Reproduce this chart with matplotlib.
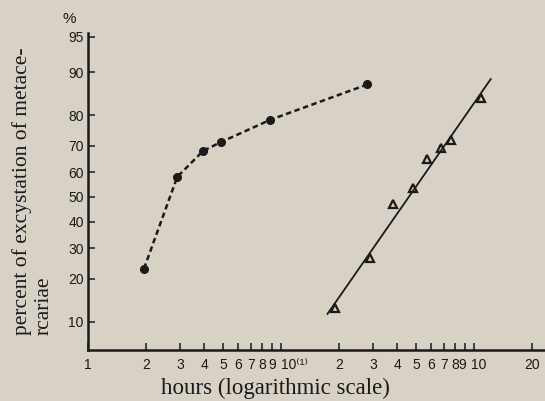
import numpy as np
import matplotlib
matplotlib.use("Agg")
import matplotlib.pyplot as plt
from statistics import NormalDist

# data (hours, % excystation)
circle_hours = [1.95, 2.9, 3.95, 4.9, 8.8, 28]
circle_pct = [23.1, 58.2, 68.2, 71.4, 78.6, 87.6]

tri_hours = [19, 29, 38, 48, 57, 67, 76, 109]
tri_pct = [12.8, 26.6, 47.3, 53.6, 65.0, 69.1, 72.1, 84.5]

# fitted straight line (end points)
line_hours = [17.4, 122]
line_pct = [11.5, 88.7]

xtick_pos = [1, 2, 3, 4, 5, 6, 7, 8, 9, 10, 20, 30, 40, 50, 60, 70, 80, 90, 100, 200]
xtick_lab = ['1', '2', '3', '4', '5', '6', '7', '8', '9', '10⁽¹⁾',
             '2', '3', '4', '5', '6', '7', '8', '9', '10', '20']
ytick_pos = [10, 20, 30, 40, 50, 60, 70, 80, 90, 95]

nd = NormalDist()
_ppf = np.vectorize(lambda p: nd.inv_cdf(min(max(p, 0.01), 99.99) / 100.0), otypes=[float])
_cdf = np.vectorize(lambda z: nd.cdf(z) * 100.0, otypes=[float])


def fwd(p):
    return _ppf(np.asarray(p, dtype=float))


def inv(z):
    return _cdf(np.asarray(z, dtype=float))


bg = '#d8d1c6'
ink = '#1a1a1a'
narrow = ['Liberation Sans', 'DejaVu Sans']
serif = ['Liberation Serif', 'DejaVu Serif']

fig = plt.figure(figsize=(5.45, 4.01), dpi=100, facecolor=bg)
ax = fig.add_axes([0.1615, 0.127, 0.8385, 0.791])
ax.set_facecolor(bg)

ax.set_xscale('log')
ax.set_yscale('function', functions=(fwd, inv))
ax.set_xlim(1, 233)
ax.set_ylim(5.8, 95.4)

# dashed curve through the circles
ax.plot(circle_hours, circle_pct, color=ink, lw=1.8, ls=(0, (2.2, 1.4)))
ax.plot(circle_hours, circle_pct, 'o', color=ink, ms=5.5, ls='none')

ax.plot(line_hours, line_pct, color=ink, lw=1.3)
ax.plot(tri_hours, tri_pct, '^', mfc='none', mec=ink, mew=1.6, ms=5.5, ls='none')

for s in ['top', 'right']:
    ax.spines[s].set_visible(False)
for s in ['left', 'bottom']:
    ax.spines[s].set_linewidth(1.8)
    ax.spines[s].set_color(ink)

# the crowded "9" / "10" pair of the second decade is placed by hand, nudged apart
crowded = {17: -2.5, 18: 3.0}
shown = ['' if i in crowded else t for i, t in enumerate(xtick_lab)]
ax.set_xticks(xtick_pos)
ax.set_xticklabels(shown, family=narrow, fontsize=10)
ax.get_xticklabels()[9].set_ha('left')
for i, dx in crowded.items():
    ax.annotate(xtick_lab[i], xy=(xtick_pos[i], 0), xycoords=('data', 'axes fraction'),
                xytext=(dx, -6), textcoords='offset points', ha='center', va='top',
                family=narrow, fontsize=10, color=ink)
ax.xaxis.set_minor_locator(matplotlib.ticker.NullLocator())
ax.set_yticks(ytick_pos)
ax.set_yticklabels([str(v) for v in ytick_pos], family=narrow, fontsize=10)
ax.yaxis.set_minor_locator(matplotlib.ticker.NullLocator())
ax.tick_params(axis='both', direction='in', length=5, width=1.1, color=ink,
               labelcolor=ink)
ax.tick_params(axis='x', pad=6)
ax.tick_params(axis='y', pad=3)

fig.text(0.127, 0.953, '%', family=narrow, fontsize=11, ha='center', va='center',
         color=ink)
fig.text(0.06, 0.165, 'percent of excystation of metace-\nrcariae', rotation=90,
         family=serif, fontsize=15.5, ha='center', va='bottom', multialignment='left',
         color=ink, linespacing=1.15)
fig.text(0.506, 0.032, 'hours (logarithmic scale)', family=serif, fontsize=16.5,
         ha='center', va='center', color=ink)

fig.savefig('out.png', dpi=100, facecolor=bg)
